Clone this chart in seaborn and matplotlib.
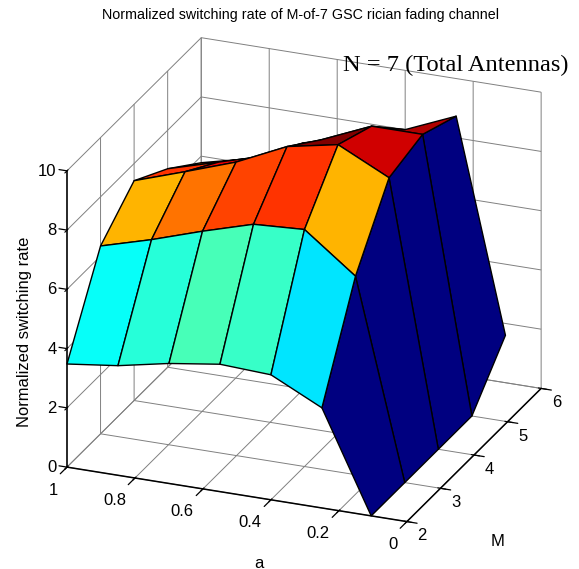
import numpy as np
import matplotlib
matplotlib.use("Agg")
import matplotlib.pyplot as plt
from matplotlib.colors import LinearSegmentedColormap, Normalize
from matplotlib.transforms import ScaledTranslation
import seaborn as sns

a_values = [0.105, 0.25, 0.4, 0.55, 0.7, 0.85, 1.0]
m_values = [2, 3, 4, 5, 6]
rate_m2 = [0.0, 3.38, 4.22, 4.3, 4.05, 3.7, 3.48]
rate_m3 = [0.0, 6.7, 8.0, 7.9, 7.39, 6.83, 6.34]
rate_m4 = [0.0, 8.9, 9.74, 9.4, 8.6, 8.0, 7.42]
rate_m5 = [0.0, 9.24, 9.24, 8.5, 7.7, 7.2, 6.7]
rate_m6 = [1.6, 8.73, 8.0, 7.5, 7.0, 6.2, 5.78]
a_ticks = [0, 0.2, 0.4, 0.6, 0.8, 1]
a_ticklabels = ["0", "0.2", "0.4", "0.6", "0.8", "1"]
m_ticks = [2, 3, 4, 5, 6]
z_ticks = [0, 2, 4, 6, 8, 10]

sns.set_style("white")
plt.rcParams["font.family"] = ["Liberation Sans"]
plt.rcParams["text.color"] = "black"
plt.rcParams["xtick.color"] = "black"
plt.rcParams["ytick.color"] = "black"

W, H = 579, 569
fig = plt.figure(figsize=(W / 100, H / 100), dpi=100, facecolor="white")
S = 589
ax = fig.add_axes([1.6 / W, -13.1 / H, S / W, S / H], projection="3d", proj_type="ortho")
ax.set_box_aspect((366.4, 360, 323.1))
ax.view_init(elev=23.5, azim=-68.1)

A, M = np.meshgrid(a_values, m_values)
Z = np.array([rate_m2, rate_m3, rate_m4, rate_m5, rate_m6])
jet = LinearSegmentedColormap("matlab_jet", {
    "red": [(0, 0, 0), (0.375, 0, 0), (0.625, 1, 1), (0.875, 1, 1), (1, 0.5, 0.5)],
    "green": [(0, 0, 0), (0.125, 0, 0), (0.375, 1, 1), (0.625, 1, 1), (0.875, 0, 0), (1, 0, 0)],
    "blue": [(0, 0.5, 0.5), (0.125, 1, 1), (0.375, 1, 1), (0.625, 0, 0), (1, 0, 0)],
}, N=64)
colors = jet(Normalize(0, Z.max())(Z))
ax.plot_surface(A, M, Z, facecolors=colors, rstride=1, cstride=1, shade=False,
                edgecolor="black", linewidth=1.0, antialiased=True)

ax.set_xlim(1, 0)
ax.set_ylim(2, 6)
ax.set_zlim(0, 10)
ax.set_xticks(a_ticks)
ax.set_xticklabels(a_ticklabels)
ax.set_yticks(m_ticks)
ax.set_zticks(z_ticks)
ax.zaxis.set_ticks_position("lower")
ax.tick_params(axis="both", labelsize=12, pad=2, colors="black")
ax.tick_params(axis="z", labelsize=12, pad=2, colors="black")

# Short outward tick marks at each axis tick location
tick_style = dict(color="black", linewidth=0.9, clip_on=False)
for t in a_ticks:
    ax.plot([t, t], [2, 1.8], [0, 0], **tick_style)
for m in m_ticks:
    ax.plot([0, -0.03], [m, m], [0, 0], **tick_style)
for z in z_ticks:
    ax.plot([1, 1.0235], [2, 2], [z, z], **tick_style)
ax.set_xlim(1, 0)
ax.set_ylim(2, 6)
ax.set_zlim(0, 10)

label_shift = {ax.xaxis: (-3, 4), ax.yaxis: (0, 9), ax.zaxis: (11, 10.5)}
label_ha = {ax.xaxis: "right", ax.yaxis: "center", ax.zaxis: "right"}
for axis in (ax.xaxis, ax.yaxis, ax.zaxis):
    axis.set_pane_color((1, 1, 1, 0))
    axis.pane.set_edgecolor((1, 1, 1, 0))
    axis.line.set_color("black")
    axis.line.set_linewidth(1.1)
    axis._axinfo["grid"].update(color="#808080", linewidth=0.7, linestyle="-")
    dx, dy = label_shift[axis]
    for tick in axis.get_major_ticks():
        label = tick.label1
        label.set_ha(label_ha[axis])
        label.set_transform(label.get_transform()
                            + ScaledTranslation(dx / 100, dy / 100, fig.dpi_scale_trans))
        # Axis3D resets label transforms at draw time; keep the offset one
        label.set_transform = lambda transform: None

fig.text(300.5 / W, 1 - 15 / H, "Normalized switching rate of M-of-7 GSC rician fading channel",
         ha="center", va="center", fontsize=10.3)
fig.text(455.5 / W, 1 - 65 / H, "N = 7 (Total Antennas)", ha="center", va="center",
         fontsize=17.6, family="Liberation Serif")
fig.text(25 / W, 1 - 332 / H, "Normalized switching rate", rotation=90, ha="center", va="center",
         fontsize=11.9)
fig.text(259 / W, 1 - 563 / H, "a", ha="center", va="center", fontsize=12)
fig.text(498 / W, 1 - 542 / H, "M", ha="center", va="center", fontsize=12)

fig.savefig("out.png", dpi=100, facecolor="white")
